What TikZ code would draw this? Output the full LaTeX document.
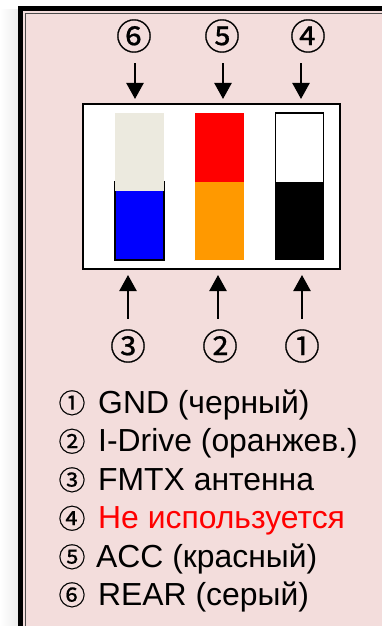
\documentclass[tikz,border=0pt]{standalone}
\usepackage{fontspec}
\setmainfont{Liberation Sans}
\newfontfamily\circfont[FakeBold=0.5]{Noto Sans CJK JP}
\usetikzlibrary{arrows.meta}
\definecolor{panelpink}{HTML}{F3DDDC}
\definecolor{pingray}{HTML}{ECEADF}
\definecolor{pinorange}{HTML}{FF9900}
\definecolor{shadowgray}{HTML}{EDEDED}
\tikzset{
  big/.style={font=\circfont\fontsize{36}{36}\selectfont, inner sep=0pt, minimum height=54bp, minimum width=40bp, anchor=center},
  arr/.style={draw=black, line width=2.3bp, -{Triangle[length=16bp,width=17bp]}},
  rowtext/.style={font=\fontsize{32}{32}\selectfont, anchor=base west, inner sep=0pt},
  rownum/.style={font=\circfont\fontsize{27}{27}\selectfont, anchor=base, inner sep=0pt},
}
\begin{document}
\begin{tikzpicture}[x=1bp,y=-1bp]
\useasboundingbox (0,0) rectangle (382,626);
% window shadow and frame
\fill[white] (0,0) rectangle (382,626);
\shade[left color=white,right color=shadowgray] (0,10) rectangle (18,626);
\fill[panelpink] (23,11) rectangle (382,626);
\fill[black] (18,6) rectangle (382,11);
\fill[black] (18,6) rectangle (23,626);
\draw[black!70,line width=1bp] (25.5,626) -- (25.5,13.5) -- (382,13.5);
% connector block
\draw[black,fill=white,line width=2bp] (83,104) rectangle (340,269) ;
% left pin
\draw[black,fill=blue,line width=2bp] (115,182) rectangle (163.5,259.5);
\fill[pingray] (115,113) rectangle (164,191);
% middle pin
\fill[red] (195,113) rectangle (244,182);
\fill[pinorange] (195,182) rectangle (244,260);
% right pin
\draw[black,fill=white,line width=1.7bp] (275.5,113) rectangle (323.5,191);
\fill[black] (275,182) rectangle (324,260);
% labels
\node[big] (n6) at (134,36) {⑥};
\node[big] (n5) at (222,36) {⑤};
\node[big] (n4) at (308,36) {④};
\node[big] (n3) at (128,346) {③};
\node[big] (n2) at (220,346) {②};
\node[big] (n1) at (302,346) {①};
% arrow tips on the block
\coordinate (t6) at (135,99);
\coordinate (t5) at (223,99);
\coordinate (t4) at (301,99);
\coordinate (t3) at (128,275);
\coordinate (t2) at (218,275);
\coordinate (t1) at (302,275);
\draw[arr] (n6.south -| t6) -- (t6);
\draw[arr] (n5.south -| t5) -- (t5);
\draw[arr] (n4.south -| t4) -- (t4);
\draw[arr] (n3.north -| t3) -- (t3);
\draw[arr] (n2.north -| t2) -- (t2);
\draw[arr] (n1.north -| t1) -- (t1);
% legend
\node[rownum] (l1) at (72,413) {①};
\node[rownum] (l2) at (72,451.5) {②};
\node[rownum] (l3) at (72,490) {③};
\node[rownum] (l4) at (72,528.5) {④};
\node[rownum] (l5) at (72,567) {⑤};
\node[rownum] (l6) at (72,605) {⑥};
\node[rowtext] (r1) at (98,413) {GND (черный)};
\node[rowtext] (r2) at (98,451.5) {I-Drive (оранжев.)};
\node[rowtext] (r3) at (98,490) {FMTX антенна};
\node[rowtext,text=red] (r4) at (98,528.5) {Не используется};
\node[rowtext] (r5) at (96,567) {ACC (красный)};
\node[rowtext] (r6) at (98,605) {REAR (серый)};
\end{tikzpicture}
\end{document}
